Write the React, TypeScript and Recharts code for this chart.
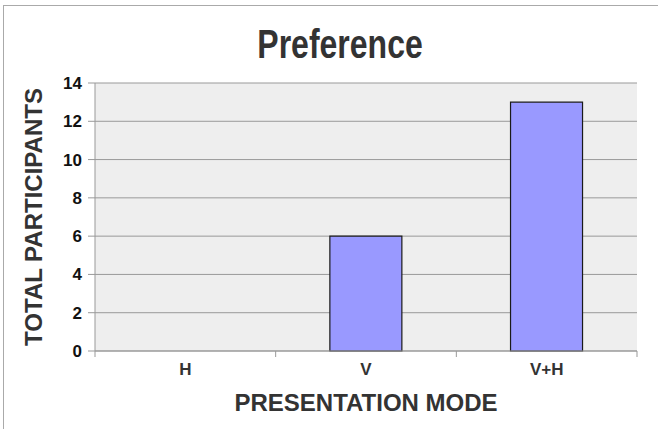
import { BarChart, Bar, XAxis, YAxis, CartesianGrid } from "recharts";

const MODES = ["H", "V", "V+H"];
const PARTICIPANTS = [0, 6, 13];
const Y_TICKS = [0, 2, 4, 6, 8, 10, 12, 14];

const data = MODES.map((mode, i) => ({ mode, participants: PARTICIPANTS[i] }));

const AXIS_GRAY = "#999999";
const TEXT_DARK = "#333333";
const FONT = "'Liberation Sans', Arial, Helvetica, sans-serif";

// category labels sit mid-band, but the little tick marks sit on the band edges
function ModeTick(props: any) {
  const { x, y, payload, index, width, visibleTicksCount } = props;
  const band = width / visibleTicksCount;
  const axisY = y - 12;
  const marks: number[] = [];
  if (Number.isFinite(band)) {
    marks.push(x - band / 2);
    if (index === visibleTicksCount - 1) marks.push(x + band / 2);
  }
  return (
    <g>
      {marks.map((mx) => (
        <line key={mx} x1={mx} x2={mx} y1={axisY} y2={axisY + 6} stroke={AXIS_GRAY} />
      ))}
      <text
        x={x}
        y={y}
        dy={12}
        textAnchor="middle"
        fontFamily={FONT}
        fontSize={17}
        fontWeight={700}
        fill={TEXT_DARK}
      >
        {payload.value}
      </text>
    </g>
  );
}

export default function App() {
  return (
    <div
      style={{
        position: "absolute",
        left: 0,
        top: 0,
        width: 658,
        height: 429,
        background: "#fff",
        fontFamily: FONT,
      }}
    >
      <div
        style={{
          position: "absolute",
          left: 3,
          top: 5,
          right: 0,
          bottom: 0,
          borderTop: "1px solid #aaa",
          borderLeft: "1px solid #aaa",
        }}
      />
      <div
        style={{
          position: "absolute",
          left: 340,
          top: 24,
          transform: "translateX(-50%) scaleX(0.8)",
          fontFamily: FONT,
          fontWeight: 700,
          fontSize: 40,
          lineHeight: "40px",
          color: TEXT_DARK,
          whiteSpace: "nowrap",
        }}
      >
        Preference
      </div>
      <BarChart
        width={658}
        height={429}
        data={data}
        margin={{ top: 83, right: 21, bottom: 0, left: 0 }}
        barCategoryGap="30%"
        style={{ position: "absolute", left: 0, top: 0 }}
      >
        <CartesianGrid vertical={false} stroke={AXIS_GRAY} fill="#eeeeee" fillOpacity={1} />
        <XAxis
          dataKey="mode"
          height={78}
          stroke={AXIS_GRAY}
          tickLine={false}
          tickSize={6}
          tickMargin={6}
          interval={0}
          tick={<ModeTick />}
          label={{
            value: "PRESENTATION MODE",
            position: "insideBottom",
            offset: 18,
            style: { fontFamily: FONT, fontSize: 24, fontWeight: 700, fill: TEXT_DARK },
          }}
        />
        <YAxis
          width={95}
          domain={[0, 14]}
          ticks={Y_TICKS}
          interval={0}
          stroke={AXIS_GRAY}
          tickSize={7}
          tickMargin={6}
          tick={{ fontFamily: FONT, fontSize: 17, fontWeight: 700, fill: "#111" }}
          label={{
            value: "TOTAL PARTICIPANTS",
            angle: -90,
            position: "insideLeft",
            offset: 33,
            style: {
              textAnchor: "middle",
              fontFamily: FONT,
              fontSize: 24,
              fontWeight: 700,
              fill: TEXT_DARK,
            },
          }}
        />
        <YAxis
          yAxisId="frame"
          orientation="right"
          width={0}
          tick={false}
          tickLine={false}
          stroke={AXIS_GRAY}
        />
        <Bar
          dataKey="participants"
          fill="#9999ff"
          stroke="#1a1a1a"
          strokeWidth={1.2}
          isAnimationActive={false}
        />
      </BarChart>
    </div>
  );
}
